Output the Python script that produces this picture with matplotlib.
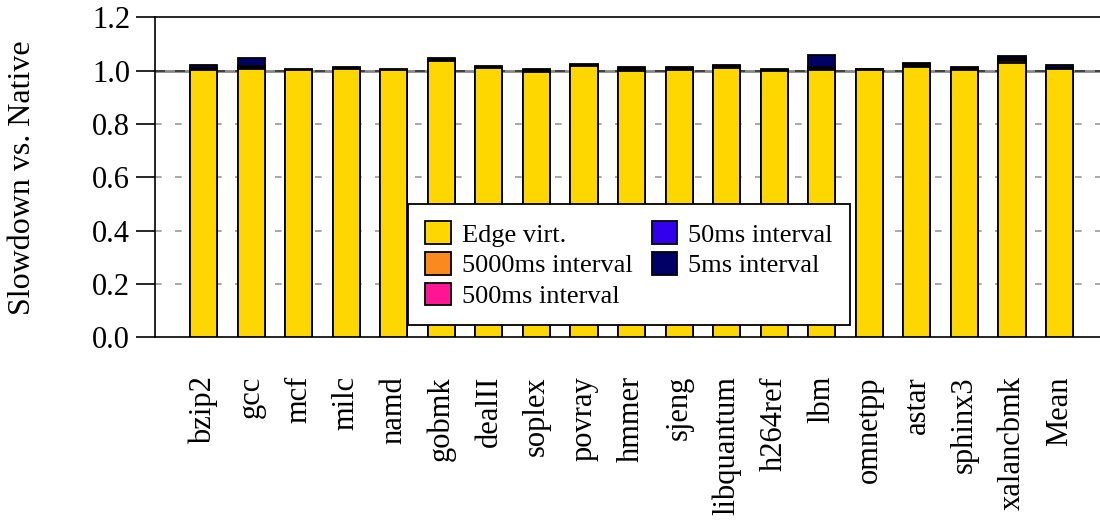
import numpy as np
import matplotlib.pyplot as plt

plt.rcParams['font.family'] = ['Liberation Serif', 'DejaVu Serif']

benchmarks = ["bzip2", "gcc", "mcf", "milc", "namd", "gobmk", "dealII", "soplex",
              "povray", "hmmer", "sjeng", "libquantum", "h264ref", "lbm", "omnetpp",
              "astar", "sphinx3", "xalancbmk", "Mean"]

# slowdown relative to native for each configuration
edge_virt = [1.003, 1.007, 1.002, 1.005, 1.001, 1.036, 1.008, 0.994, 1.018, 0.999,
             1.001, 1.008, 0.999, 1.001, 1.001, 1.012, 1.001, 1.030, 1.004]
iv_5000ms = [1.005, 1.010, 1.002, 1.006, 1.002, 1.038, 1.009, 0.996, 1.019, 1.001,
             1.003, 1.010, 1.000, 1.004, 1.002, 1.016, 1.003, 1.035, 1.006]
iv_500ms = [1.008, 1.012, 1.003, 1.008, 1.002, 1.040, 1.011, 0.998, 1.020, 1.003,
            1.005, 1.013, 1.001, 1.007, 1.003, 1.020, 1.005, 1.040, 1.008]
iv_50ms = [1.011, 1.018, 1.003, 1.010, 1.003, 1.042, 1.013, 1.001, 1.022, 1.006,
           1.008, 1.016, 1.002, 1.013, 1.004, 1.024, 1.008, 1.046, 1.011]
iv_5ms = [1.019, 1.046, 1.005, 1.013, 1.004, 1.046, 1.016, 1.006, 1.025, 1.012,
          1.012, 1.021, 1.005, 1.057, 1.007, 1.030, 1.013, 1.056, 1.020]

series = [
    ("Edge virt.", edge_virt, "#FFD700"),
    ("5000ms interval", iv_5000ms, "#FA8A1E"),
    ("500ms interval", iv_500ms, "#FF1493"),
    ("50ms interval", iv_50ms, "#3300EE"),
    ("5ms interval", iv_5ms, "#000066"),
]

fig = plt.figure(figsize=(11, 5.22), dpi=100)
ax = fig.add_axes([0.141, 0.354, 0.859, 0.613])

x = np.arange(len(benchmarks))
width = 0.57

# grid lines behind the bars
for y in [0.2, 0.4, 0.6, 0.8]:
    ax.axhline(y, color="#999999", lw=1.2, ls=(0, (4, 8)), zorder=0)
ax.axhline(1.0, color="#888888", lw=2.0, zorder=0)
ax.axhline(1.0, color="#333333", lw=1.2, ls=(0, (6, 6)), zorder=0)

# tallest configuration first so shorter ones sit in front
handles = {}
for i, (label, vals, color) in enumerate(reversed(series)):
    b = ax.bar(x, vals, width, color=color, edgecolor="black", linewidth=1.3,
               label=label, zorder=2 + i)
    handles[label] = b

ax.set_xlim(-1.02, 18.85)
ax.set_ylim(0, 1.2)
ax.set_yticks([0.0, 0.2, 0.4, 0.6, 0.8, 1.0, 1.2])
ax.set_yticklabels(["0.0", "0.2", "0.4", "0.6", "0.8", "1.0", "1.2"])
ax.set_xticks(x)
ax.set_xticklabels(benchmarks)
ax.tick_params(axis="x", length=0, pad=28, labelsize=22, labelrotation=90)
for lbl in ax.get_xticklabels():
    lbl.set_verticalalignment("top")
    lbl.set_horizontalalignment("center")
ax.tick_params(axis="y", direction="out", length=14, width=1.2, labelsize=22, pad=4)
ax.set_ylabel("Slowdown vs. Native", fontsize=23)
ax.yaxis.set_label_coords(-0.125, 0.5)

for s in ["left", "top", "bottom"]:
    ax.spines[s].set_linewidth(1.2)
ax.spines["right"].set_visible(False)

leg = ax.legend([handles[s[0]] for s in series], [s[0] for s in series],
                ncol=2, loc="lower left", bbox_to_anchor=(0.268, 0.0375),
                borderaxespad=0, fontsize=19, frameon=True, fancybox=False,
                edgecolor="black", framealpha=1, handlelength=0.95,
                handleheight=0.95, handletextpad=0.42, columnspacing=0.75,
                labelspacing=0.2, borderpad=0.65)
leg.get_frame().set_linewidth(1.3)
leg.set_zorder(20)

fig.savefig("out.png", dpi=100)
